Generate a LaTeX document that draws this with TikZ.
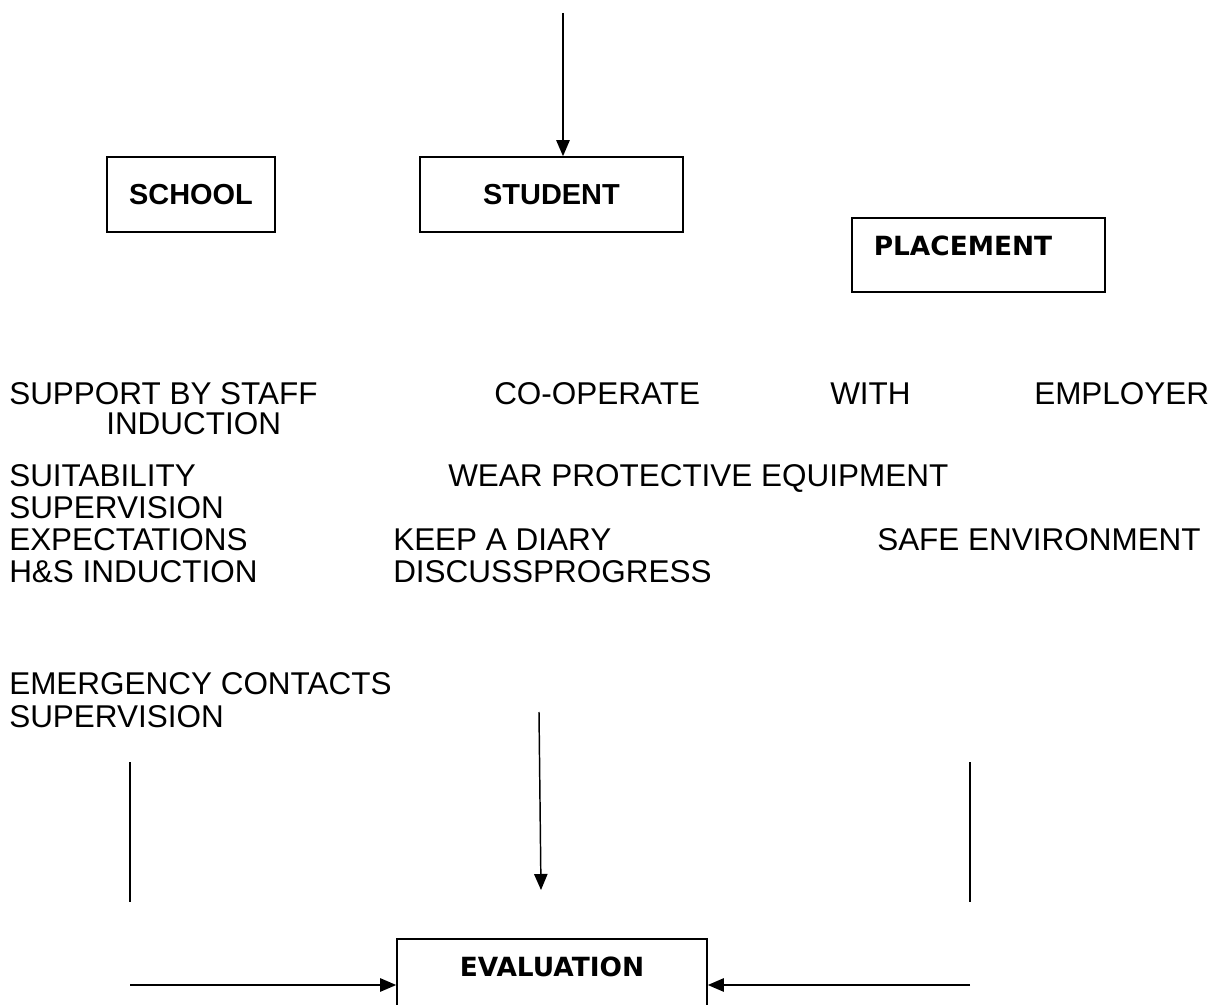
\documentclass[tikz,border=0pt]{standalone}
\usepackage{fontspec}
\setmainfont{Liberation Sans}
\newfontfamily\boxfont{DejaVu Sans}[BoldFont={DejaVu Sans Bold}]
\usetikzlibrary{arrows.meta}
\tikzset{
  body/.style={anchor=base west,inner sep=0pt,font=\fontsize{23.6}{28}\selectfont},
  boxa/.style={draw,line width=1.2pt,inner sep=0pt,font=\fontsize{21.7}{26}\selectfont\bfseries},
  boxb/.style={draw,line width=1.2pt,font=\fontsize{19.8}{24}\selectfont\boxfont\bfseries},
  conn/.style={line width=1.1pt},
  arr/.style={conn,-{Triangle[width=10pt,length=12pt]}}
}
\begin{document}
\begin{tikzpicture}[x=0.75pt,y=-0.75pt]
\clip (0,0) rectangle (1215,1005);
\fill[white] (0,0) rectangle (1215,1005);
% boxes
\node[boxa,minimum width=126pt,minimum height=56.25pt] (school) at (191,194.5) {SCHOOL};
\node[boxa,minimum width=197.25pt,minimum height=56.25pt] (student) at (551.5,194.5) {STUDENT};
\node[boxb,anchor=north west,inner xsep=16.5pt,inner ysep=13.5pt,text width=156.75pt,align=left,
      text height=15pt,text depth=13.5pt] (placement) at (851,217) {PLACEMENT};
\node[boxb,anchor=north,minimum width=232.5pt,inner ysep=14pt,text height=14.5pt,text depth=40pt] (evaluation) at (552,938) {EVALUATION};
% text
\node[body] (t1) at (9,405) {SUPPORT BY STAFF};
\node[body] (t2) at (494,405) {CO-OPERATE};
\node[body] (t3) at (830,405) {WITH};
\node[body] (t4) at (1034,405) {EMPLOYER};
\node[body] (t5) at (106,435) {INDUCTION};
\node[body] (t6) at (9,487) {SUITABILITY};
\node[body] (t7) at (448,487) {WEAR PROTECTIVE EQUIPMENT};
\node[body] (t8) at (9,519) {SUPERVISION};
\node[body] (t9) at (9,551) {EXPECTATIONS};
\node[body] (t10) at (393,551) {KEEP A DIARY};
\node[body] (t11) at (877,551) {SAFE ENVIRONMENT};
\node[body] (t12) at (9,583) {H\&S INDUCTION};
\node[body] (t13) at (393,583) {DISCUSSPROGRESS};
\node[body] (t14) at (9,695) {EMERGENCY CONTACTS};
\node[body] (t15) at (9,727) {SUPERVISION};
% connectors
\coordinate (top) at (563,13);
\draw[arr] (top) -- (top |- student.north);
\coordinate (ma) at (539,712);
\coordinate (mb) at (541,890);
\draw[arr] (ma) -- (mb);
\coordinate (la) at (130,762);
\coordinate (lb) at (130,902);
\draw[conn] (la) -- (lb);
\coordinate (ra) at (970,762);
\coordinate (rb) at (970,902);
\draw[conn] (ra) -- (rb);
\coordinate (lh) at (130,985);
\coordinate (rh) at (970,985);
\draw[arr] (lh) -- (lh -| evaluation.west);
\draw[arr] (rh) -- (rh -| evaluation.east);
\end{tikzpicture}
\end{document}
